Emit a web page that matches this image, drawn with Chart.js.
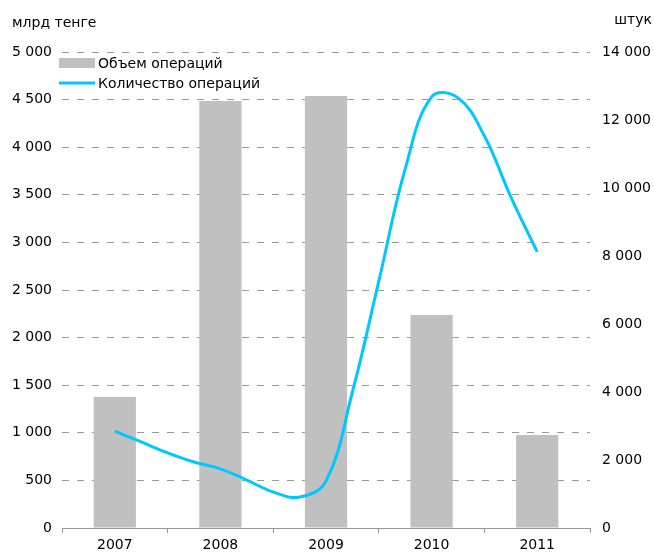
<!DOCTYPE html>
<html>
<head>
<meta charset="utf-8">
<script src="https://cdn.jsdelivr.net/npm/chart.js@4"></script>
<style>
  body { margin: 0; background: #fff; }
</style>
</head>
<body>
<canvas id="chart" width="654" height="553"></canvas>
<script>
// years on the category axis
const years = ['2007', '2008', '2009', '2010', '2011'];
// bars: volume, bn tenge (left axis)
const volume = [1376, 4486, 4538, 2237, 977];
// line: number of operations (right axis)
const quarters = [2007, 2007.25, 2007.5, 2007.75, 2008, 2008.25, 2008.5, 2008.75,
                  2009, 2009.25, 2009.5, 2009.75, 2010, 2010.25, 2010.5, 2010.75, 2011];
const count = [2850, 2530, 2210, 1940, 1740, 1410, 1060, 910,
               1380, 4000, 7260, 10560, 12680, 12650, 11530, 9740, 8120];

const leftUnit = 'млрд тенге';
const rightUnit = 'штук';
const FONT = 'DejaVu Sans';
const BAR_COLOR = '#c0c0c0';
const LINE_COLOR = '#00c8ff';

function spaced(v) {
  return v.toString().replace(/\B(?=(\d{3})+(?!\d))/g, ' ');
}

// unit captions above the axes + legend in the top left of the plot
const extras = {
  id: 'extras',
  afterDraw(chart) {
    const c = chart.ctx;
    const area = chart.chartArea;
    c.save();
    c.font = '14px "' + FONT + '"';
    c.fillStyle = '#000';
    c.textBaseline = 'alphabetic';
    c.textAlign = 'left';
    c.fillText(leftUnit, 12, 27);
    c.textAlign = 'right';
    c.fillText(rightUnit, 652, 24);

    // legend
    const lx = area.left - 3;
    let ly = area.top + 11;
    chart.data.datasets.forEach(ds => {
      if (ds.type === 'bar') {
        c.fillStyle = ds.backgroundColor;
        c.fillRect(lx, ly - 5, 36, 10);
      } else {
        c.strokeStyle = ds.borderColor;
        c.lineWidth = 3;
        c.beginPath();
        c.moveTo(lx, ly);
        c.lineTo(lx + 36, ly);
        c.stroke();
      }
      c.fillStyle = '#000';
      c.textAlign = 'left';
      c.textBaseline = 'middle';
      c.fillText(ds.label, lx + 39, ly + 1);
      ly += 20;
    });
    c.restore();
  }
};

const ctx = document.getElementById('chart').getContext('2d');
const myChart = new Chart(ctx, {
  type: 'bar',
  data: {
    labels: years,
    datasets: [
      {
        type: 'bar',
        label: 'Объем операций',
        data: volume,
        backgroundColor: BAR_COLOR,
        yAxisID: 'y',
        xAxisID: 'x',
        grouped: false,
        barPercentage: 0.4,
        categoryPercentage: 1,
        order: 2
      },
      {
        type: 'line',
        label: 'Количество операций',
        data: quarters.map((q, i) => ({ x: q, y: count[i] })),
        borderColor: LINE_COLOR,
        backgroundColor: LINE_COLOR,
        borderWidth: 3,
        pointRadius: 0,
        tension: 0.4,
        yAxisID: 'y2',
        xAxisID: 'xq',
        order: 1
      }
    ]
  },
  options: {
    responsive: false,
    animation: false,
    layout: { padding: { top: 52, left: 9, right: 1, bottom: 0 } },
    plugins: {
      tooltip: { enabled: false },
      legend: { display: false }
    },
    scales: {
      x: {
        type: 'category',
        offset: true,
        grid: {
          offset: true,
          drawOnChartArea: false,
          drawTicks: true,
          tickLength: 5,
          color: '#999'
        },
        border: { display: true, color: '#999', width: 1 },
        ticks: { font: { family: FONT, size: 14 }, color: '#000', padding: 4, maxRotation: 0 },
        afterFit: s => { s.height = 25; }
      },
      xq: {
        type: 'linear',
        display: false,
        offset: false,
        grid: { offset: false },
        min: 2006.5,
        max: 2011.5
      },
      y: {
        position: 'left',
        min: 0,
        max: 5000,
        ticks: {
          stepSize: 500,
          font: { family: FONT, size: 14 },
          color: '#000',
          padding: 10,
          callback: v => spaced(v)
        },
        grid: {
          color: '#999',
          drawTicks: false
        },
        border: { display: false, dash: [7, 8] },
        afterFit: s => { s.width = 53; }
      },
      y2: {
        position: 'right',
        min: 0,
        max: 14000,
        ticks: {
          stepSize: 2000,
          font: { family: FONT, size: 14 },
          color: '#000',
          padding: 12,
          callback: v => spaced(v)
        },
        grid: { display: false, drawTicks: false },
        border: { display: false },
        afterFit: s => { s.width = 63; }
      }
    }
  },
  plugins: [extras]
});
</script>
</body>
</html>
